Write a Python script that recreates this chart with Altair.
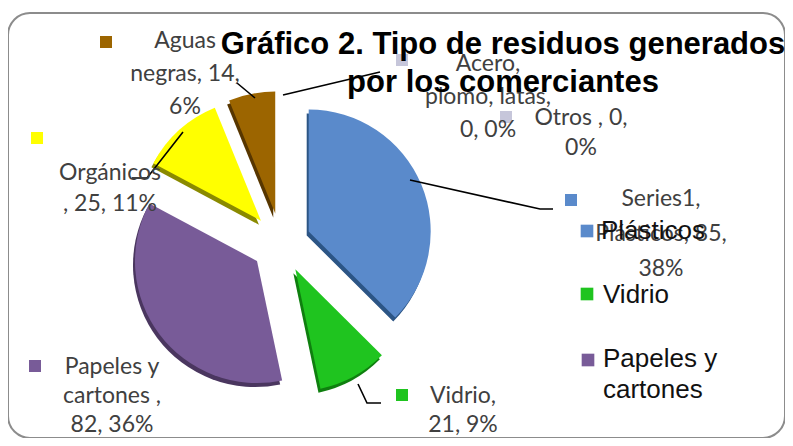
import altair as alt
import pandas as pd

# ---------------- data ----------------
categories = ["Plásticos", "Vidrio", "Papeles y cartones", "Orgánicos",
              "Aguas negras", "Acero, plomo, latas", "Otros"]
values = [85, 21, 82, 25, 14, 0, 0]
percent_text = ["38%", "9%", "36%", "11%", "6%", "0%", "0%"]
series_name = "Series1"
title_lines = ["Gráfico 2. Tipo de residuos generados", "por los comerciantes"]
legend_items = ["Plásticos", "Vidrio", "Papeles y cartones"]
legend_lines = [["Plásticos"], ["Vidrio"], ["Papeles y", "cartones"]]

# data-label wrapping as drawn by the spreadsheet
label_templates = [
    ["{s},", "{c}, {v},", "{p}"],
    ["{c},", "{v}, {p}"],
    ["Papeles y", "cartones ,", "{v}, {p}"],
    ["{c}", ", {v}, {p}"],
    ["Aguas", "negras, {v},", "{p}"],
    ["Acero,", "plomo, latas,", "{v}, {p}"],
    ["{c} , {v},", "{p}"],
]

# ---------------- style / layout ----------------
colors = ["#5a8acb", "#1fc41f", "#785b98", "#ffff00", "#9c6500", "#c6c6da", "#c6c6da"]
shadow_colors = ["#2c5585", "#0f7f0f", "#4a365f", "#8a8a00", "#573600", "#9090a8", "#9090a8"]
OX, OY = 8, 13            # page offset of the plot frame
W, H = 777, 425
CX, CY = 281 - OX, 243 - OY
R = 122
EXPLODE = 30
SDX, SDY = -2, 4

# label placement (page coords): text centre x, first baseline y, line height
label_pos = [(661, 206, 35), (463, 403, 29), (112, 374, 29), (110, 180, 31),
             (185, 48, 33), (488, 71, 33), (581, 125, 30)]
key_pos = [(571, 200), (402, 395), (35, 366), (37, 138), (106, 42), (402, 60), (506, 117)]
leaders = [
    [(410, 180), (540, 209), (553, 209)],
    [(358, 384), (367, 403), (381, 403)],
    None,
    [(183, 132), (147, 178), (132, 178)],
    [(237, 83), (255, 98)],
    [(283, 95), (380, 72)],
    None,
]
legend_key_pos = [(587, 231), (587, 294), (588, 360)]
legend_text_pos = [(601, 239, 30), (603, 303, 30), (603, 367, 31)]
title_pos = (503, 54, 38)

# ---------------- tables ----------------
pie_df = pd.DataFrame({"category": categories, "value": values,
                       "order": list(range(len(categories)))})

lab_rows = []
for i, cat in enumerate(categories):
    x0, y0, lh = label_pos[i]
    for j, t in enumerate(label_templates[i]):
        lab_rows.append({"category": cat,
                         "text": t.format(s=series_name, c=cat, v=values[i], p=percent_text[i]),
                         "x": x0 - OX, "y": y0 - OY + j * lh})
lab_df = pd.DataFrame(lab_rows)

key_df = pd.DataFrame({"category": categories,
                       "x": [p[0] - OX for p in key_pos],
                       "y": [p[1] - OY for p in key_pos]})

lead_rows = []
for i, pts in enumerate(leaders):
    if not pts:
        continue
    for k, (px_, py_) in enumerate(pts):
        lead_rows.append({"seg": categories[i], "ord": k, "x": px_ - OX, "y": py_ - OY})
lead_df = pd.DataFrame(lead_rows)

leg_key_df = pd.DataFrame({"category": legend_items,
                           "x": [p[0] - OX for p in legend_key_pos],
                           "y": [p[1] - OY for p in legend_key_pos]})
leg_rows = []
for i, item in enumerate(legend_items):
    x0, y0, lh = legend_text_pos[i]
    for j, t in enumerate(legend_lines[i]):
        leg_rows.append({"text": t, "x": x0 - OX, "y": y0 - OY + j * lh})
leg_df = pd.DataFrame(leg_rows)

title_df = pd.DataFrame({"text": title_lines,
                         "x": [title_pos[0] - OX] * len(title_lines),
                         "y": [title_pos[1] - OY + k * title_pos[2] for k in range(len(title_lines))]})

color_scale = alt.Scale(domain=categories, range=colors)
shadow_scale = alt.Scale(domain=categories, range=shadow_colors)
px = lambda f: alt.X(f"{f}:Q", scale=None, axis=None)
py = lambda f: alt.Y(f"{f}:Q", scale=None, axis=None)

base = (alt.Chart(pie_df)
        .transform_joinaggregate(total="sum(value)")
        .transform_window(cum="sum(value)", sort=[alt.SortField("order")], frame=[None, 0])
        .transform_calculate(t1="2*PI*datum.cum/datum.total")
        .transform_calculate(t0="2*PI*(datum.cum-datum.value)/datum.total")
        .transform_calculate(mid="(datum.t0+datum.t1)/2")
        .transform_calculate(cx=f"{CX}+{EXPLODE}*sin(datum.mid)")
        .transform_calculate(cy=f"{CY}-{EXPLODE}*cos(datum.mid)")
        .transform_calculate(sx=f"datum.cx+({SDX})")
        .transform_calculate(sy=f"datum.cy+({SDY})"))

shadow = base.mark_arc(radius=R).encode(
    theta=alt.Theta("t0:Q", scale=None), theta2="t1:Q",
    x=px("sx"), y=py("sy"),
    color=alt.Color("category:N", scale=shadow_scale, legend=None),
)
slices = base.mark_arc(radius=R).encode(
    theta=alt.Theta("t0:Q", scale=None), theta2="t1:Q",
    x=px("cx"), y=py("cy"),
    color=alt.Color("category:N", scale=color_scale, legend=None),
    tooltip=["category:N", "value:Q"],
)

lead = alt.Chart(lead_df).mark_line(color="black", strokeWidth=1.6).encode(
    x=px("x"), y=py("y"), detail="seg:N", order="ord:Q")

keys = alt.Chart(key_df).mark_square(size=144, opacity=1).encode(
    x=px("x"), y=py("y"),
    color=alt.Color("category:N", scale=color_scale, legend=None))

labels = alt.Chart(lab_df).mark_text(font="Lato", fontSize=23, color="#404040",
                                     align="center", baseline="alphabetic").encode(
    x=px("x"), y=py("y"), text="text:N")

leg_keys = alt.Chart(leg_key_df).mark_square(size=160, opacity=1).encode(
    x=px("x"), y=py("y"),
    color=alt.Color("category:N", scale=color_scale, legend=None))

leg_text = alt.Chart(leg_df).mark_text(font="Liberation Sans", fontSize=26, color="#111111",
                                       align="left", baseline="alphabetic").encode(
    x=px("x"), y=py("y"), text="text:N")

title = alt.Chart(title_df).mark_text(font="Liberation Sans", fontSize=31, fontWeight="bold",
                                      color="black", align="center", baseline="alphabetic").encode(
    x=px("x"), y=py("y"), text="text:N")

chart = (alt.layer(shadow, slices, lead, keys, labels, leg_keys, leg_text, title)
         .resolve_scale(color="independent")
         .properties(width=W, height=H, autosize="none",
                     padding={"left": 0, "top": 5, "right": 0, "bottom": 0},
                     background="white")
         .configure_view(stroke="#8c8c8c", strokeWidth=2, cornerRadius=22))

chart.save("out.html", embed_options={"renderer": "svg", "actions": False})
